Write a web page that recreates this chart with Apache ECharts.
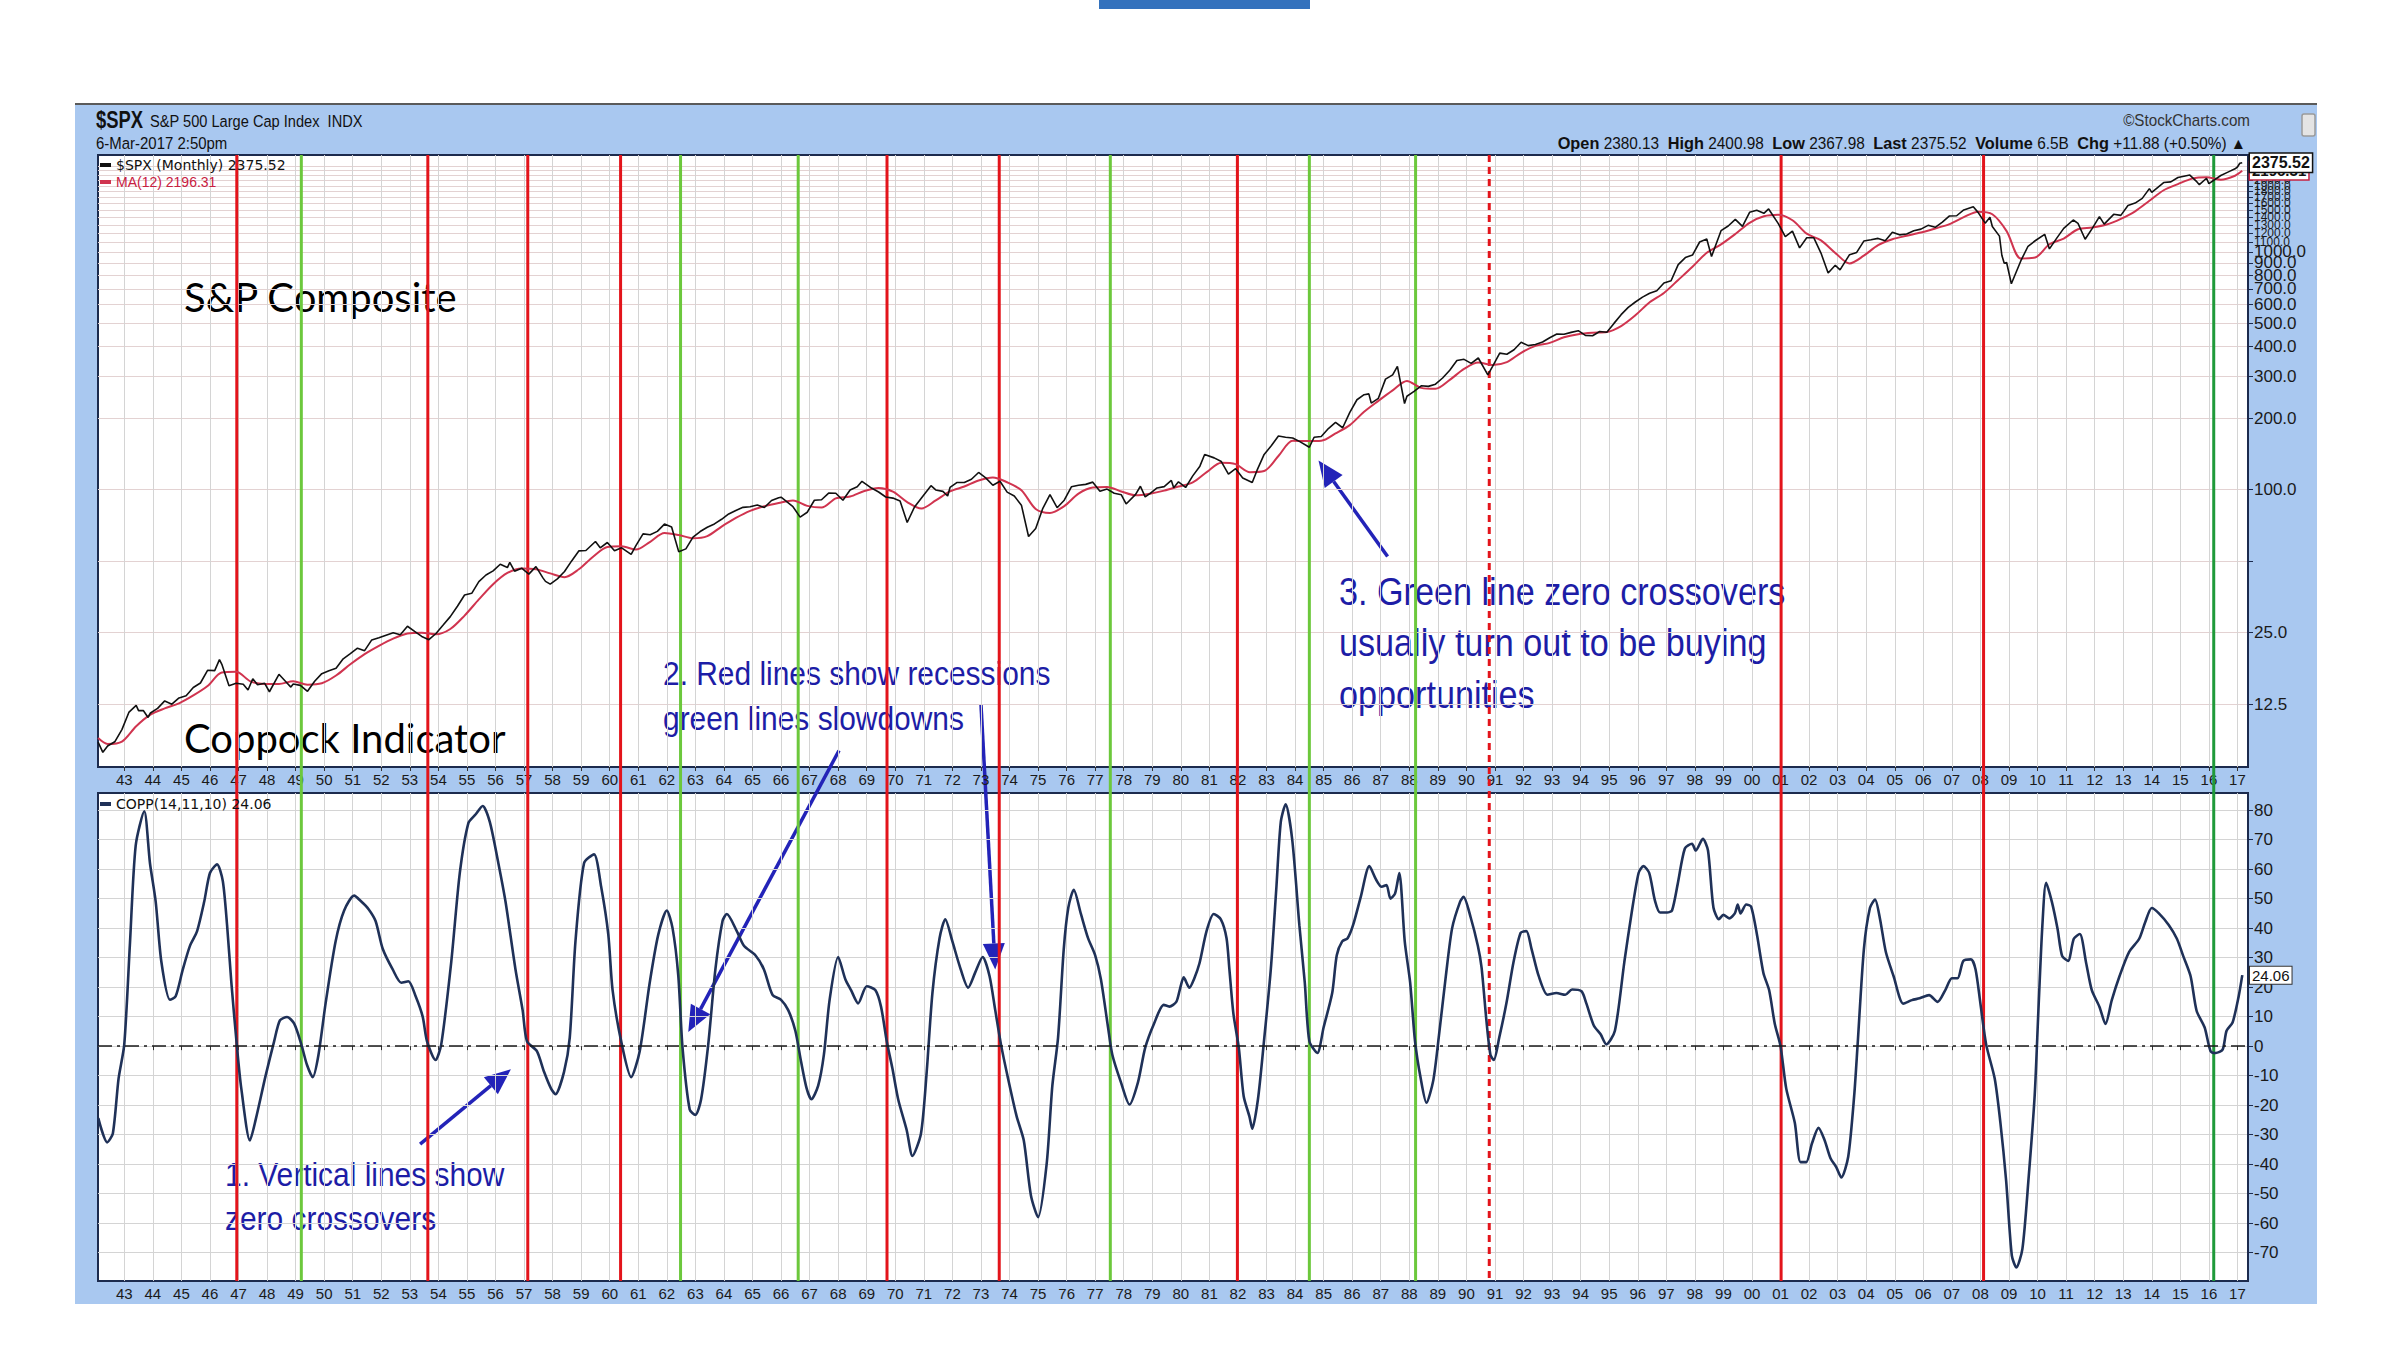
<!DOCTYPE html>
<html><head><meta charset="utf-8">
<script src="https://cdn.jsdelivr.net/npm/echarts@6/dist/echarts.min.js"></script>
<style>html,body{margin:0;padding:0;background:#fff}#c{width:2400px;height:1350px}</style>
</head><body><div id="c"></div>
<script>
// ---------- DATA ----------
const spxMonths = ['1942-02','1942-04','1942-06','1942-09','1942-12','1943-03','1943-06','1943-07','1943-09','1943-11','1943-12',
'1944-03','1944-06','1944-09','1944-12','1945-03','1945-06','1945-09','1945-12','1946-03','1946-05','1946-06','1946-09','1946-12',
'1947-03','1947-05','1947-07','1947-09','1947-12','1948-02','1948-06','1948-09','1948-11','1948-12','1949-03','1949-06','1949-09','1949-12',
'1950-03','1950-06','1950-09','1950-12','1951-03','1951-06','1951-09','1951-12','1952-03','1952-06','1952-09','1952-12',
'1953-03','1953-06','1953-09','1953-12','1954-03','1954-06','1954-09','1954-12','1955-03','1955-06','1955-09','1955-12',
'1956-03','1956-06','1956-07','1956-09','1956-12','1957-03','1957-06','1957-09','1957-10','1957-12','1958-03','1958-06','1958-09','1958-12',
'1959-03','1959-07','1959-09','1959-12','1960-03','1960-06','1960-10','1960-12','1961-03','1961-06','1961-09','1961-12',
'1962-03','1962-06','1962-09','1962-12','1963-03','1963-06','1963-09','1963-12','1964-03','1964-06','1964-09','1964-12',
'1965-03','1965-06','1965-09','1965-12','1966-01','1966-06','1966-09','1966-12','1967-03','1967-06','1967-09','1967-12',
'1968-03','1968-06','1968-09','1968-11','1969-03','1969-06','1969-09','1969-12','1970-03','1970-06','1970-09','1970-12',
'1971-04','1971-06','1971-09','1971-11','1971-12','1972-03','1972-06','1972-09','1972-12','1973-03','1973-06','1973-09','1973-12',
'1974-03','1974-06','1974-09','1974-12','1975-03','1975-06','1975-09','1975-12','1976-03','1976-06','1976-09','1976-12',
'1977-03','1977-06','1977-09','1977-12','1978-02','1978-06','1978-08','1978-10','1978-12','1979-03','1979-06','1979-09','1979-10','1979-12',
'1980-03','1980-06','1980-09','1980-11','1981-03','1981-06','1981-09','1981-12','1982-03','1982-07','1982-09','1982-12',
'1983-03','1983-06','1983-09','1983-12','1984-03','1984-07','1984-09','1984-12','1985-03','1985-06','1985-09','1985-12',
'1986-03','1986-06','1986-08','1986-09','1986-12','1987-03','1987-06','1987-08','1987-11','1987-12','1988-03','1988-06','1988-09','1988-12',
'1989-03','1989-06','1989-09','1989-12','1990-03','1990-06','1990-10','1990-12','1991-03','1991-06','1991-09','1991-12',
'1992-03','1992-06','1992-09','1992-12','1993-03','1993-06','1993-09','1993-12','1994-03','1994-06','1994-09','1994-12',
'1995-03','1995-06','1995-09','1995-12','1996-03','1996-06','1996-09','1996-12','1997-03','1997-06','1997-09','1997-12',
'1998-03','1998-06','1998-08','1998-12','1999-03','1999-06','1999-09','1999-12','2000-03','2000-06','2000-08','2000-12',
'2001-03','2001-06','2001-09','2001-12','2002-03','2002-06','2002-09','2002-12','2003-02','2003-06','2003-09','2003-12',
'2004-03','2004-06','2004-09','2004-12','2005-03','2005-06','2005-09','2005-12','2006-03','2006-06','2006-09','2006-12',
'2007-03','2007-06','2007-10','2007-12','2008-03','2008-05','2008-06','2008-09','2008-10','2008-11','2008-12',
'2009-02','2009-06','2009-09','2009-12','2010-04','2010-06','2010-09','2010-12','2011-04','2011-06','2011-09','2011-12',
'2012-03','2012-05','2012-09','2012-12','2013-03','2013-06','2013-09','2013-12','2014-01','2014-06','2014-09','2014-12',
'2015-05','2015-08','2015-09','2015-12','2016-01','2016-06','2016-09','2016-12','2017-01','2017-02','2017-03'];
const spxValues = [8.65,7.84,8.33,8.68,9.77,11.58,12.35,11.74,11.75,10.99,11.48,
12.0,12.9,12.5,13.28,13.55,14.7,15.35,17.36,17.3,19.25,18.4,14.96,15.3,
15.17,14.34,16.0,15.1,15.3,14.1,16.7,15.5,14.75,15.2,15.0,14.16,15.6,16.8,
17.3,17.7,19.4,20.4,21.5,21.0,23.3,23.8,24.4,25.0,24.5,26.6,
25.3,24.1,23.35,24.8,26.9,29.2,32.3,36.0,36.6,41.0,43.7,45.5,
48.5,46.97,49.4,45.35,46.7,44.1,47.4,42.4,41.1,40.0,42.1,45.2,50.1,55.2,
55.4,60.5,56.9,59.9,55.3,56.9,53.4,58.1,65.1,64.6,66.7,71.6,
69.55,54.75,56.3,63.1,66.6,69.4,71.7,75.0,78.98,81.7,84.2,84.75,
86.2,84.1,89.96,92.4,92.9,84.7,76.6,80.3,90.2,90.6,96.7,96.5,
90.2,99.6,102.7,108.4,101.5,97.7,93.1,92.1,89.6,72.7,84.2,92.15,
103.9,99.7,98.3,93.99,102.1,107.2,107.1,110.55,118.05,112.0,104.3,108.4,97.55,
93.98,86.0,63.5,68.56,83.4,95.2,83.9,90.2,102.8,104.3,105.2,107.5,
98.4,100.5,96.5,95.1,87.0,95.5,103.3,93.15,96.1,101.6,102.9,109.3,101.8,107.9,
102.1,114.2,125.5,140.5,136.0,131.2,116.2,122.55,111.96,107.1,120.4,140.6,
152.96,168.1,166.1,164.9,159.2,150.7,166.1,167.2,180.7,191.85,182.1,211.3,
238.9,250.8,252.9,231.3,242.2,291.7,304.0,329.8,230.3,247.1,258.9,273.5,271.9,277.7,
294.9,318.0,349.2,353.4,339.9,358.0,304.0,330.2,375.2,371.2,387.9,417.1,
403.7,408.1,417.8,435.7,451.7,450.5,458.9,466.45,445.8,444.3,462.7,459.3,
500.7,544.75,584.4,615.9,645.5,670.6,687.3,740.7,757.1,885.1,947.3,970.4,
1101.75,1133.8,957.3,1229.2,1286.4,1372.7,1282.7,1469.25,1498.6,1454.6,1517.7,1320.3,
1160.3,1224.4,1040.9,1148.1,1147.4,989.8,815.3,879.8,841.2,974.5,996.0,1111.9,
1126.2,1140.8,1114.6,1211.9,1180.6,1191.3,1228.8,1248.3,1294.8,1270.2,1335.85,1418.3,
1420.9,1503.35,1549.4,1468.4,1322.7,1400.4,1280.0,1166.4,968.75,896.2,903.25,
735.1,919.3,1057.1,1115.1,1186.7,1030.7,1141.2,1257.6,1363.6,1320.6,1131.4,1257.6,
1408.5,1310.3,1440.7,1426.2,1569.2,1606.3,1681.55,1848.4,1782.6,1960.2,1972.3,2058.9,
2107.4,1972.2,1920.0,2043.9,1940.2,2098.9,2168.3,2238.8,2278.9,2363.6,2375.52];

const maMonths = ['1942-02','1942-06','1942-12','1943-06','1943-12','1944-06','1944-12','1945-06','1945-12','1946-06','1946-12',
'1947-06','1947-12','1948-06','1948-12','1949-06','1949-12','1950-06','1950-12','1951-06','1951-12','1952-06','1952-12',
'1953-06','1953-12','1954-06','1954-12','1955-06','1955-12','1956-06','1956-12','1957-06','1957-12','1958-06','1958-12',
'1959-06','1959-12','1960-06','1960-12','1961-06','1961-12','1962-06','1962-12','1963-06','1963-12','1964-06','1964-12',
'1965-06','1965-12','1966-06','1966-12','1967-06','1967-12','1968-06','1968-12','1969-06','1969-12','1970-06','1970-12',
'1971-06','1971-12','1972-06','1972-12','1973-06','1973-12','1974-06','1974-12','1975-06','1975-12','1976-06','1976-12',
'1977-06','1977-12','1978-06','1978-12','1979-06','1979-12','1980-06','1980-12','1981-06','1981-12','1982-06','1982-12',
'1983-06','1983-12','1984-06','1984-12','1985-06','1985-12','1986-06','1986-12','1987-06','1987-12','1988-06','1988-12',
'1989-06','1989-12','1990-06','1990-12','1991-06','1991-12','1992-06','1992-12','1993-06','1993-12','1994-06','1994-12',
'1995-06','1995-12','1996-06','1996-12','1997-06','1997-12','1998-06','1998-12','1999-06','1999-12','2000-06','2000-12',
'2001-06','2001-12','2002-06','2002-12','2003-06','2003-12','2004-06','2004-12','2005-06','2005-12','2006-06','2006-12',
'2007-06','2007-12','2008-06','2008-12','2009-06','2009-12','2010-06','2010-12','2011-06','2011-12','2012-06','2012-12',
'2013-06','2013-12','2014-06','2014-12','2015-06','2015-12','2016-06','2016-12','2017-03'];
const maValues = [9.0,8.5,8.7,10.1,11.3,12.0,12.6,13.6,14.9,17.0,17.1,
15.6,15.2,15.2,15.6,15.1,15.3,16.5,18.4,20.3,22.0,23.6,24.8,
25.0,24.6,25.9,29.5,34.5,40.0,44.6,46.6,46.2,44.4,42.8,46.2,
52.2,57.3,57.7,55.9,60.3,65.7,64.4,62.4,63.7,69.9,76.0,81.4,
85.2,87.9,90.0,85.4,84.0,91.9,93.5,98.7,101.6,98.1,88.6,83.2,
90.0,98.3,103.0,109.3,112.5,107.4,99.4,82.9,79.8,85.2,96.2,102.0,
102.6,98.2,94.6,96.1,99.0,103.0,107.2,118.8,129.8,128.0,118.4,119.7,
138.5,160.4,160.0,160.5,172.3,186.8,212.6,236.3,261.5,286.8,268.0,265.6,
289.5,322.0,342.5,334.6,344.2,376.6,402.5,414.6,437.8,450.8,457.2,460.4,
488.0,541.7,614.2,672.1,762.5,866.6,992.8,1076.7,1190.4,1327.3,1413.0,1434.5,
1360.0,1194.2,1119.6,991.2,894.9,965.2,1068.4,1131.3,1170.2,1207.2,1256.0,1310.5,
1401.3,1477.2,1441.4,1224.6,939.7,948.1,1077.6,1139.3,1246.0,1267.6,1304.5,1379.4,
1483.4,1643.8,1819.4,1931.4,2036.1,2061.1,2014.0,2094.0,2196.31];

const coppYears = [1942.09,1942.4,1942.6,1942.8,1943.0,1943.2,1943.4,1943.7,1943.9,1944.1,1944.3,1944.6,1944.8,1945.05,1945.3,1945.55,1945.8,
1946.0,1946.25,1946.45,1946.6,1946.75,1946.95,1947.1,1947.4,1947.6,1947.95,1948.25,1948.45,1948.7,1948.95,1949.2,1949.4,1949.6,1949.8,
1950.05,1950.4,1950.7,1951.05,1951.3,1951.55,1951.8,1952.05,1952.4,1952.7,1952.95,1953.2,1953.45,1953.6,1953.9,1954.1,1954.45,1954.75,
1955.05,1955.3,1955.55,1955.8,1956.1,1956.35,1956.7,1956.95,1957.1,1957.45,1957.7,1957.95,1958.1,1958.4,1958.6,1958.8,1959.1,1959.45,
1959.7,1959.95,1960.1,1960.4,1960.75,1961.05,1961.4,1961.7,1962.0,1962.2,1962.4,1962.55,1962.8,1963.0,1963.2,1963.45,1963.7,1963.95,
1964.1,1964.45,1964.7,1965.1,1965.4,1965.7,1966.0,1966.25,1966.5,1966.7,1966.9,1967.06,1967.3,1967.5,1967.7,1968.0,1968.25,1968.45,
1968.7,1969.0,1969.3,1969.5,1969.7,1969.9,1970.1,1970.4,1970.6,1970.9,1971.1,1971.3,1971.55,1971.75,1972.0,1972.25,1972.55,1972.8,
1973.06,1973.3,1973.5,1973.7,1973.95,1974.25,1974.5,1974.75,1975.0,1975.3,1975.5,1975.7,1975.9,1976.06,1976.25,1976.5,1976.75,1977.0,
1977.2,1977.45,1977.6,1977.9,1978.2,1978.5,1978.75,1979.06,1979.4,1979.6,1979.84,1979.96,1980.1,1980.3,1980.46,1980.65,1980.9,1981.15,
1981.4,1981.6,1981.7,1981.84,1982.03,1982.2,1982.4,1982.5,1982.7,1982.9,1983.15,1983.34,1983.5,1983.67,1983.9,1984.15,1984.34,1984.5,
1984.78,1985.0,1985.3,1985.46,1985.65,1985.84,1986.03,1986.3,1986.6,1986.84,1987.03,1987.2,1987.34,1987.5,1987.65,1987.84,1988.03,1988.2,
1988.4,1988.6,1988.84,1989.03,1989.28,1989.5,1989.78,1989.9,1990.15,1990.4,1990.53,1990.7,1990.84,1990.96,1991.15,1991.4,1991.65,1991.9,
1992.1,1992.28,1992.53,1992.84,1993.15,1993.46,1993.7,1994.03,1994.2,1994.46,1994.7,1994.9,1995.2,1995.53,1995.78,1996.03,1996.2,1996.4,
1996.6,1996.78,1997.03,1997.2,1997.4,1997.65,1997.9,1998.03,1998.28,1998.46,1998.65,1998.84,1999.0,1999.2,1999.4,1999.5,1999.6,1999.8,
1999.97,2000.18,2000.4,2000.6,2000.8,2001.0,2001.2,2001.5,2001.7,2001.9,2002.1,2002.33,2002.54,2002.75,2002.95,2003.13,2003.37,2003.58,
2003.7,2003.92,2004.13,2004.31,2004.48,2004.69,2004.96,2005.3,2005.6,2005.87,2006.2,2006.5,2006.77,2007.0,2007.2,2007.4,2007.67,2007.83,
2008.0,2008.2,2008.5,2008.7,2008.9,2009.1,2009.26,2009.47,2009.68,2009.9,2010.03,2010.17,2010.3,2010.5,2010.7,2010.86,2011.07,2011.27,
2011.48,2011.7,2011.9,2012.17,2012.38,2012.6,2012.87,2013.2,2013.56,2013.77,2014.0,2014.25,2014.6,2014.88,2015.1,2015.36,2015.57,2015.85,
2016.06,2016.24,2016.48,2016.62,2016.83,2017.04,2017.17];
const coppValues = [-24.4,-32.6,-29.6,-11,0.6,35,68,79.6,62,49,28.5,15.7,16.9,26,34,39,49,
58.7,61.6,56,41,21.5,-0.6,-14.5,-32,-25,-10,1.7,8.7,9.9,7.6,0.6,-6.4,-10.5,-3,
14.5,35.5,46,51,49,46.5,42.4,33,26,21.5,22,17,10,1.7,-4.7,0.6,28.5,58.7,
75.6,78.5,81.4,76,62,49,26,12.2,1.7,-1.7,-8.7,-14.5,-16.3,-8.7,2.9,35.5,62,65,
54,37.8,19,1.7,-10.5,-1.7,21.5,37.8,46,40,24,-0.6,-21.5,-23.3,-18,0.6,26,42.4,
44.8,39,34,30.8,26,17.4,15.7,12.2,5.2,-5.2,-14.5,-18,-13.4,-2.9,15.7,30.2,22.7,19,
14.5,20.3,19,13.4,1.7,-7.6,-18,-28.5,-37.2,-29.6,-8.7,18,36.6,43,35.5,27.3,19.8,25,
30.2,23.8,12.2,0.6,-11,-23.8,-32,-50.6,-58,-40,-13.4,2.9,33,47,53,44.8,36.6,30.8,
22.7,6.4,-2.9,-12.2,-19.8,-12.2,-0.6,7.6,14,13.4,15,19,23.3,19.8,22.7,28,39,44.8,
43,36.6,26,11,-0.6,-17,-23.8,-28,-18,0.6,26,53,76,82,70,41,21.5,1.7,
-2.3,6.4,18,30.8,35.5,36.6,41,50.6,61,56.4,54,54.6,50,51.7,58.7,35.5,21.5,1.7,
-11,-19.2,-11.6,2.9,23.8,40,49,50.6,43.6,34,26.7,8.7,-2.9,-4.7,2.9,14.5,28.5,38.4,
39,33,23.8,17.4,18,17.4,19.2,18.6,14.5,7,4,0.6,5.2,28.5,44.8,58.7,61,58.7,
49.4,45.3,45.3,46,55,67,68.6,66.3,70.3,66.3,47,43,44.5,43.3,45,48,45,48,
47.3,37.5,24.8,19,7.5,0,-14.4,-26,-39.3,-39.3,-33,-27.7,-31.8,-38,-41,-44.5,-37.5,-16.7,
0.6,33,46.8,49.7,43.3,31.8,23.7,14.4,15.6,16.2,17.3,15,19,23,23,28.9,29.4,26,
14.4,0.6,-11,-26,-45.6,-71,-75,-68.7,-45.6,-16.7,12,41,55.4,49,39.8,30.6,28.9,36.4,
38,28.3,19,13.3,7.5,15.6,23.7,31.8,36.4,42,46.8,45,41,36.4,30.6,23.7,12,6.4,
-1.7,-2.3,-1.2,5.2,8,16.7,24.06];

// Coppock zero-crossover marker lines (decimal years)
const redCrossings = [1946.94,1953.63,1957.13,1960.38,1969.71,1973.64,1981.98,2001.02,2008.11];
const greenCrossings = [1949.2,1962.48,1966.6,1977.53,1984.5,1988.22];
const darkGreenCrossings = [2016.17];
const dashedRedCrossings = [1990.8];

// Tick labels
const yearTicks = [1943,1944,1945,1946,1947,1948,1949,1950,1951,1952,1953,1954,1955,1956,1957,1958,1959,1960,1961,1962,1963,1964,1965,1966,1967,1968,1969,
1970,1971,1972,1973,1974,1975,1976,1977,1978,1979,1980,1981,1982,1983,1984,1985,1986,1987,1988,1989,1990,1991,1992,1993,1994,1995,1996,1997,1998,1999,
2000,2001,2002,2003,2004,2005,2006,2007,2008,2009,2010,2011,2012,2013,2014,2015,2016,2017];
const priceTicks = [12.5,25,50,100,200,300,400,500,600,700,800,900,1000,1100,1200,1300,1400,1500,1600,1700,1800,1900,2000,2100,2200,2300];
const priceLabels = [12.5,25,100,200,300,400,500,600,700,800,900,1000,1100,1200,1300,1400,1500,1600,1700,1800,1900,2000,2100,2200,2300];
const coppTicks = [-70,-60,-50,-40,-30,-20,-10,0,10,20,30,40,50,60,70,80];

// ---------- helpers ----------
const monthToYear = s => { const [y, m] = s.split('-').map(Number); return y + (m - 1) / 12; };
const spxData = spxMonths.map((m, i) => [monthToYear(m), spxValues[i]]);
const maData = maMonths.map((m, i) => [monthToYear(m), maValues[i]]);
const coppData = coppYears.map((y, i) => [y, coppValues[i]]);
const crossData = [].concat(
  redCrossings.map(y => [y, 0]), greenCrossings.map(y => [y, 1]),
  darkGreenCrossings.map(y => [y, 2]), dashedRedCrossings.map(y => [y, 3]));
const crossColors = ['#e3141b', '#6cc83c', '#1f9a3a', '#e3141b'];
const lastSpx = spxValues[spxValues.length - 1];
const lastMa = maValues[maValues.length - 1];
const lastCopp = coppValues[coppValues.length - 1];

const X_MIN = 1942.08, X_MAX = 2017.37;
const ARIAL = '"Liberation Sans",Arial,sans-serif';
const BLUE = '#1d1da6';
const yr = v => String(Math.round(v) % 100).padStart(2, '0');

const xAxisBase = (grid) => ({
  type: 'value', gridIndex: grid, min: X_MIN, max: X_MAX,
  axisLine: { show: false },
  axisTick: { show: true, customValues: yearTicks, length: 4, lineStyle: { color: '#333' } },
  axisLabel: { show: true, customValues: yearTicks, formatter: yr, fontFamily: ARIAL, fontSize: 15, color: '#1a1a1a', margin: 5 },
  splitLine: { show: true, lineStyle: { color: '#d4d4d4', width: 1 } }
});

const chart = echarts.init(document.getElementById('c'), null, { renderer: 'svg' });

const hiddenLine = { color: 'rgba(0,0,0,0)', width: 0 };
const option = {
  animation: false,
  backgroundColor: '#ffffff',
  grid: [
    { left: 98, right: 152, top: 155, height: 612, show: true, backgroundColor: '#fff', borderColor: '#1c2b4e', borderWidth: 2 },
    { left: 98, right: 152, top: 793, height: 488, show: true, backgroundColor: '#fff', borderColor: '#1c2b4e', borderWidth: 2 },
    { left: 98, right: 152, top: 155, height: 1126, show: false }
  ],
  xAxis: [
    xAxisBase(0),
    xAxisBase(1),
    { type: 'value', gridIndex: 2, min: X_MIN, max: X_MAX, show: false }
  ],
  yAxis: [
    { type: 'log', gridIndex: 0, position: 'right', min: 6.8, max: 2560, logBase: 10,
      axisLine: { show: true, lineStyle: { color: '#1c2b4e', width: 2 } },
      axisTick: { show: true, customValues: priceTicks, length: 5, lineStyle: { color: '#1c2b4e' } },
      axisLabel: { customValues: priceLabels,
        formatter: v => v > 1050 ? '{s|' + Number(v).toFixed(1) + '}' : Number(v).toFixed(1),
        rich: { s: { fontFamily: ARIAL, fontSize: 12, color: '#1a1a1a', lineHeight: 10 } },
        fontFamily: ARIAL, fontSize: 17, color: '#1a1a1a', margin: 6 },
      splitLine: { show: true, lineStyle: { color: '#e3d2d2', width: 1 } } },
    { type: 'value', gridIndex: 1, position: 'right', min: -79.6, max: 85.8,
      axisLine: { show: true, lineStyle: { color: '#1c2b4e', width: 2 } },
      axisTick: { show: true, customValues: coppTicks, length: 5, lineStyle: { color: '#1c2b4e' } },
      axisLabel: { customValues: coppTicks, formatter: v => String(v), fontFamily: ARIAL, fontSize: 17, color: '#1a1a1a', margin: 6 },
      splitLine: { show: true, lineStyle: { color: '#d4d4d4', width: 1 } } },
    { type: 'value', gridIndex: 2, min: 0, max: 1, show: false }
  ],
  legend: [
    { left: 100, top: 158, orient: 'vertical', itemGap: 3, itemWidth: 11, itemHeight: 4, icon: 'rect', padding: 0, selectedMode: false,
      data: [
        { name: '$SPX (Monthly)', textStyle: { color: '#111', fontFamily: '"DejaVu Sans",sans-serif', fontSize: 14 } },
        { name: 'MA(12)', textStyle: { color: '#c8203f', fontFamily: ARIAL, fontSize: 14 } }
      ],
      formatter: n => n === 'MA(12)' ? n + ' ' + lastMa.toFixed(2) : n + ' ' + lastSpx.toFixed(2) },
    { left: 100, top: 797, orient: 'vertical', itemWidth: 11, itemHeight: 4, icon: 'rect', padding: 0, selectedMode: false,
      data: [{ name: 'COPP(14,11,10)', textStyle: { color: '#111', fontFamily: '"DejaVu Sans",sans-serif', fontSize: 14 } }],
      formatter: n => n + ' ' + lastCopp.toFixed(2) }
  ],
  series: [
    { name: 'MA(12)', type: 'line', xAxisIndex: 0, yAxisIndex: 0, data: maData, showSymbol: false, smooth: 0.3,
      lineStyle: { color: '#d0344f', width: 2 }, itemStyle: { color: '#d0344f' }, z: 3,
      markLine: { silent: true, symbol: ['none', 'none'], animation: false,
        data: [{ yAxis: lastMa, lineStyle: hiddenLine,
          label: { show: true, position: 'end', distance: 2, formatter: lastMa.toFixed(2), color: '#111', fontFamily: ARIAL, fontSize: 15, fontWeight: 'bold',
            backgroundColor: '#fff', borderColor: '#c8203f', borderWidth: 1.5, padding: [1, 2] } }] } },
    { name: '$SPX (Monthly)', type: 'line', xAxisIndex: 0, yAxisIndex: 0, data: spxData, showSymbol: false,
      lineStyle: { color: '#111', width: 1.6 }, itemStyle: { color: '#111' }, z: 4,
      markLine: { silent: true, symbol: ['none', 'none'], animation: false, z: 10,
        data: [{ yAxis: lastSpx, lineStyle: hiddenLine,
          label: { show: true, position: 'end', distance: 2, formatter: lastSpx.toFixed(2), color: '#111', fontFamily: ARIAL, fontSize: 16, fontWeight: 'bold',
            backgroundColor: '#fff', borderColor: '#111', borderWidth: 1.5, padding: [1, 2] } }] } },
    { name: 'COPP(14,11,10)', type: 'line', xAxisIndex: 1, yAxisIndex: 1, data: coppData, showSymbol: false, smooth: 0.25,
      lineStyle: { color: '#1f3158', width: 2.6 }, itemStyle: { color: '#1f3158' }, z: 4,
      markLine: { silent: true, symbol: ['none', 'none'], animation: false,
        data: [
          { yAxis: 0, lineStyle: { color: '#1a1a1a', width: 1.6, type: [14, 5, 3, 5] }, label: { show: false } },
          { yAxis: lastCopp, lineStyle: hiddenLine,
            label: { show: true, position: 'end', distance: 2, formatter: lastCopp.toFixed(2), color: '#111', fontFamily: ARIAL, fontSize: 15,
              backgroundColor: '#fff', borderColor: '#333', borderWidth: 1, padding: [1, 2] } }
        ] } },
    { name: 'crossovers', type: 'custom', xAxisIndex: 2, yAxisIndex: 2, data: crossData, silent: true, z: 3,
      encode: { x: 0 },
      renderItem: (params, api) => {
        const x = api.value(0), k = api.value(1);
        const p1 = api.coord([x, 1]), p2 = api.coord([x, 0]);
        return { type: 'line', shape: { x1: p1[0], y1: p1[1], x2: p2[0], y2: p2[1] },
          style: { stroke: crossColors[k], lineWidth: 3, lineDash: k === 3 ? [7, 5] : null } };
      } }
  ]
};

// text helper with horizontal compression (narrow look)
const T = (x, y, text, font, fill, sx, extra) => Object.assign({ type: 'text', x: x, y: y, scaleX: sx,
  style: Object.assign({ x: 0, y: 0, text: text, font: font, fill: fill, verticalAlign: 'middle' }, extra || {}) });

const staticGraphics = [
  { type: 'rect', z: -100, shape: { x: 75, y: 104, width: 2242, height: 1200 }, style: { fill: '#a9c8f0' } },
  { type: 'line', z: -90, shape: { x1: 75, y1: 104, x2: 2317, y2: 104 }, style: { stroke: '#5a5a5a', lineWidth: 2 } },
  { type: 'rect', shape: { x: 1099, y: 0, width: 211, height: 9 }, style: { fill: '#3472bd' } },
  { type: 'rect', shape: { x: 2302, y: 114, width: 13, height: 22, r: 2 }, style: { fill: '#e4e4e4', stroke: '#9a9a9a', lineWidth: 1.5 } },
  T(96, 120, '$SPX', 'bold 23px ' + ARIAL, '#111', 0.8),
  T(150, 121, 'S&P 500 Large Cap Index  INDX', '17px ' + ARIAL, '#111', 0.86),
  T(96, 143, '6-Mar-2017 2:50pm', '17px ' + ARIAL, '#111', 0.88),
  T(2250, 120, '©StockCharts.com', '16px ' + ARIAL, '#333', 0.95, { align: 'right' }),
  T(2246, 143, '{b|Open} {r|2380.13}  {b|High} {r|2400.98}  {b|Low} {r|2367.98}  {b|Last} {r|2375.52}  {b|Volume} {r|6.5B}  {b|Chg} {r|+11.88 (+0.50%) ▲}',
    '16px ' + ARIAL, '#111', 0.96,
    { align: 'right', rich: { b: { font: 'bold 17px ' + ARIAL, fill: '#111' }, r: { font: '16px ' + ARIAL, fill: '#111' } } }),
  T(184, 297, 'S&P Composite', '40px Lato,"Open Sans",sans-serif', '#000', 1.0),
  T(184, 738, 'Coppock Indicator', '40px Lato,"Open Sans",sans-serif', '#000', 1.0),
  T(663, 673, '2. Red lines show recessions', '34px ' + ARIAL, BLUE, 0.88),
  T(663, 718, 'green lines slowdowns', '34px ' + ARIAL, BLUE, 0.88),
  T(1339, 592, '3. Green line zero crossovers', '38px ' + ARIAL, BLUE, 0.9),
  T(1339, 643, 'usually turn out to be buying', '38px ' + ARIAL, BLUE, 0.9),
  T(1339, 695, 'opportunities', '38px ' + ARIAL, BLUE, 0.9),
  T(225, 1174, '1. Vertical lines show', '34px ' + ARIAL, BLUE, 0.88),
  T(225, 1218, 'zero crossovers', '34px ' + ARIAL, BLUE, 0.88)
];
option.graphic = { elements: staticGraphics };
chart.setOption(option);

// Arrows anchored in data space: [gridIndex, [x, y]] tail -> head
const arrows = [
  [[1, [1953.36, -33.2]], [1, [1956.54, -7.8]]],
  [[0, [1968.03, 7.98]], [1, [1962.75, 4.8]]],
  [[0, [1973.0, 12.5]], [1, [1973.5, 26]]],
  [[0, [1987.24, 52.3]], [0, [1984.82, 132.7]]]
];
const arrowEls = [];
arrows.forEach(([t, h]) => {
  const a = chart.convertToPixel({ gridIndex: t[0] }, t[1]);
  const b = chart.convertToPixel({ gridIndex: h[0] }, h[1]);
  const dx = b[0] - a[0], dy = b[1] - a[1], L = Math.hypot(dx, dy);
  const ux = dx / L, uy = dy / L, hl = 26, hw = 11;
  const bx = b[0] - ux * hl, by = b[1] - uy * hl;
  arrowEls.push({ type: 'line', shape: { x1: a[0], y1: a[1], x2: bx, y2: by }, style: { stroke: '#2323b8', lineWidth: 3.5 } });
  arrowEls.push({ type: 'polygon', shape: { points: [[b[0], b[1]], [bx - uy * hw, by + ux * hw], [bx + uy * hw, by - ux * hw]] }, style: { fill: '#2323b8' } });
});
chart.setOption({ graphic: { elements: staticGraphics.concat(arrowEls) } });
</script>
</body></html>
